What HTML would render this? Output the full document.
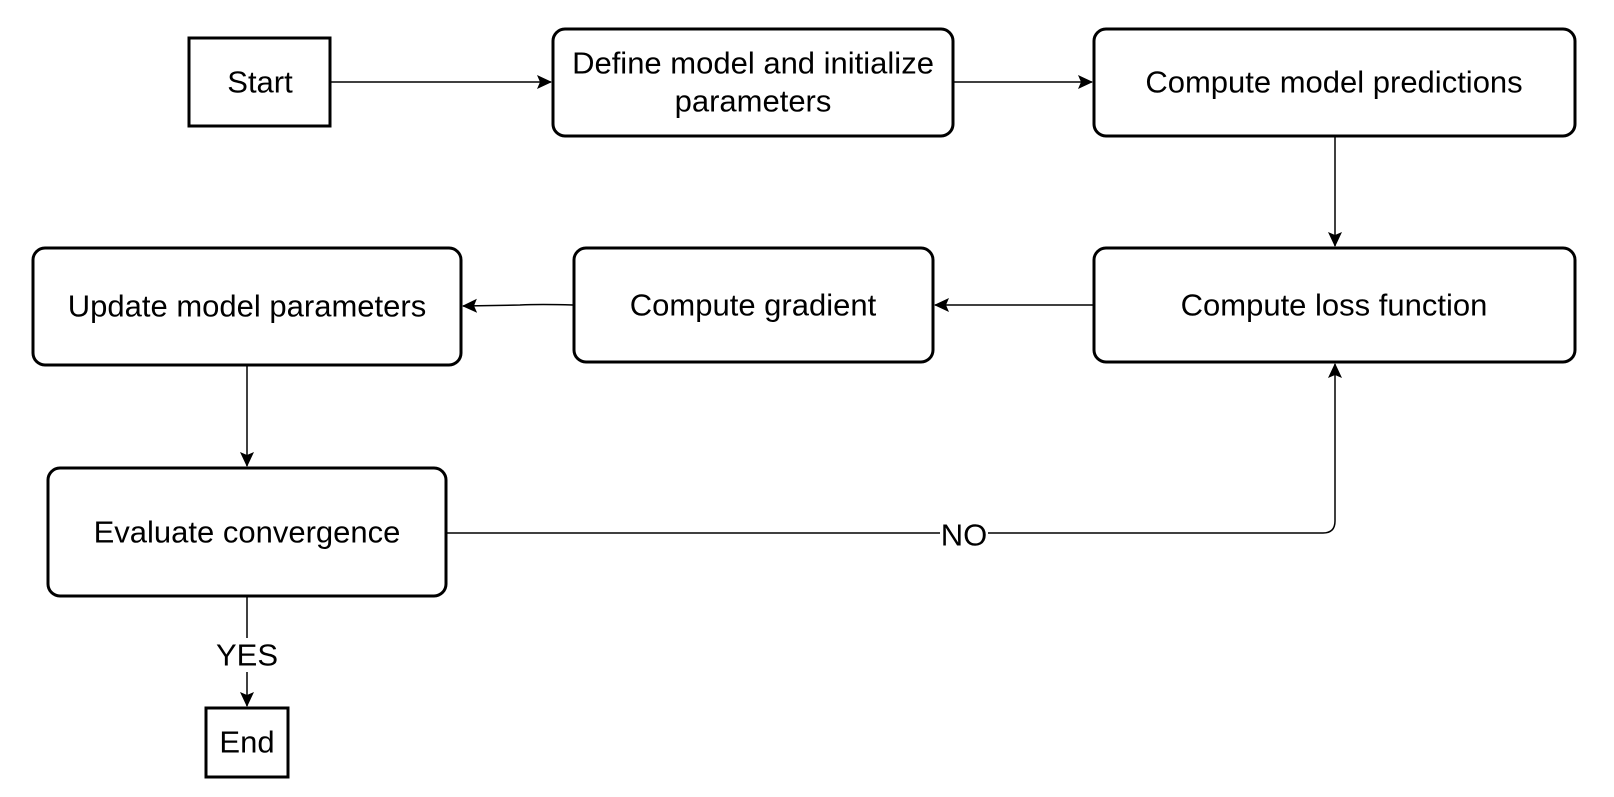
<!DOCTYPE html>
<html><head><style>
html,body{margin:0;padding:0;background:#fff;}
svg text{font-family:"Liberation Sans",Arial,Helvetica,sans-serif;font-size:31px;fill:#000;text-anchor:middle;dominant-baseline:central;}
</style></head><body>
<svg width="1614" height="792" viewBox="0 0 1614 792" xmlns="http://www.w3.org/2000/svg">
<defs>
<marker id="a" markerWidth="16" markerHeight="16" refX="14" refY="7" orient="auto" markerUnits="userSpaceOnUse">
<path d="M0,0 L15,7 L0,14 L3,7 Z" fill="#000"/>
</marker>
</defs>
<g fill="#fff" stroke="#000" stroke-width="3">
<rect x="189" y="38" width="141" height="88"/>
<rect x="553" y="29" width="400" height="107" rx="12"/>
<rect x="1094" y="29" width="481" height="107" rx="12"/>
<rect x="33" y="248" width="428" height="117" rx="12"/>
<rect x="574" y="248" width="359" height="114" rx="12"/>
<rect x="1094" y="248" width="481" height="114" rx="12"/>
<rect x="48" y="468" width="398" height="128" rx="12"/>
<rect x="206" y="708" width="82" height="69"/>
</g>
<g stroke="#000" stroke-width="1.5" fill="none">
<line x1="331" y1="82" x2="551" y2="82" marker-end="url(#a)"/>
<line x1="954" y1="82" x2="1092" y2="82" marker-end="url(#a)"/>
<line x1="1335" y1="137" x2="1335" y2="246" marker-end="url(#a)"/>
<line x1="1093" y1="305" x2="935" y2="305" marker-end="url(#a)"/>
<path d="M573,305 Q540,304 520,305 L463,306" marker-end="url(#a)"/>
<line x1="247" y1="366" x2="247" y2="466" marker-end="url(#a)"/>
<path d="M447,533 L1323,533 Q1335,533 1335,521 L1335,364" marker-end="url(#a)"/>
<line x1="247" y1="597" x2="247" y2="706" marker-end="url(#a)"/>
</g>
<rect x="940" y="518" width="48" height="32" fill="#fff"/>
<rect x="214" y="638" width="66" height="34" fill="#fff"/>
<text x="260" y="82">Start</text>
<text x="753" y="63">Define model and initialize</text>
<text x="753" y="101">parameters</text>
<text x="1334" y="82">Compute model predictions</text>
<text x="247" y="306">Update model parameters</text>
<text x="753" y="305">Compute gradient</text>
<text x="1334" y="305">Compute loss function</text>
<text x="247" y="532">Evaluate convergence</text>
<text x="247" y="742">End</text>
<text x="964" y="535">NO</text>
<text x="247" y="655">YES</text>
</svg>
</body></html>
